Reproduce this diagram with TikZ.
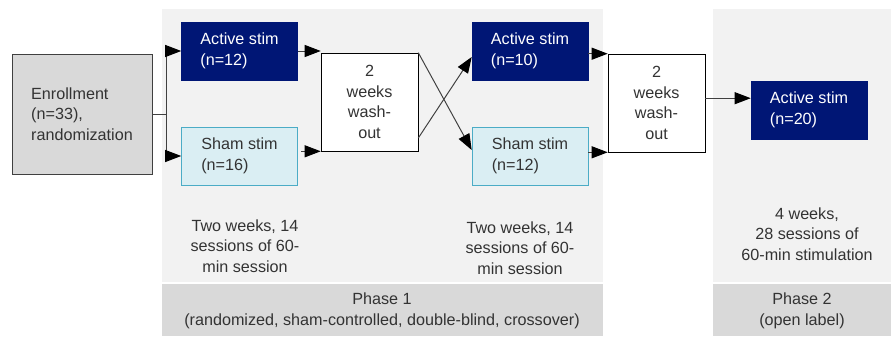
\documentclass[tikz,border=0pt]{standalone}
\usepackage{fontspec}
\setmainfont{Liberation Sans}
\usepackage{tikz}
\usetikzlibrary{arrows.meta,positioning}

\definecolor{navybox}{RGB}{0,22,117}
\definecolor{shamfill}{RGB}{218,238,243}
\definecolor{shamline}{RGB}{75,172,198}
\definecolor{phasebg}{RGB}{242,242,242}
\definecolor{phaseband}{RGB}{217,217,217}
\definecolor{textgray}{RGB}{51,51,51}
\definecolor{linegray}{RGB}{64,64,64}

\begin{document}
\begin{tikzpicture}[
    x=0.025cm, y=-0.025cm,
    every node/.style={font=\fontsize{11.5}{14.6}\selectfont, text=textgray},
    activebox/.style={rectangle, draw=navybox, fill=navybox, text=white, align=left, minimum width=2.9cm, minimum height=1.45cm},
    shambox/.style={rectangle, draw=shamline, fill=shamfill, align=left, minimum width=2.9cm, minimum height=1.45cm},
    washbox/.style={rectangle, draw=black, fill=white, align=center, minimum width=2.425cm, minimum height=2.45cm},
    enrollbox/.style={rectangle, draw=linegray, fill=phaseband, align=left, minimum width=3.5cm, minimum height=3cm},
    info/.style={align=center},
    link/.style={draw=linegray, line width=0.7pt},
    arrow/.style={link, -{Triangle[length=0.4cm, width=0.3cm, black]}}
]
\useasboundingbox (0,0) rectangle (891,336);

% Phase backgrounds
\fill[phasebg] (162,9) rectangle (603,282);
\fill[phaseband] (162,284) rectangle (603,336);
\fill[phasebg] (713,9) rectangle (891,282);
\fill[phaseband] (713,284) rectangle (891,336);

% Boxes
\node[enrollbox] (enroll) at (82,114) {Enrollment\\(n=33),\\randomization};
\node[activebox] (act1) at (239.5,51) {Active stim\\(n=12)};
\node[shambox] (sham1) at (239.5,156) {Sham stim\\(n=16)};
\node[washbox] (wash1) at (369.5,102) {2\\weeks\\wash-\\out};
\node[activebox] (act2) at (530,51) {Active stim\\(n=10)};
\node[shambox] (sham2) at (530,156) {Sham stim\\(n=12)};
\node[washbox] (wash2) at (656.5,103) {2\\weeks\\wash-\\out};
\node[activebox] (act3) at (809,110) {Active stim\\(n=20)};

% Session notes
\node[info] (note1) at (245,246) {Two weeks, 14\\sessions of 60-\\min session};
\node[info] (note2) at (520,248) {Two weeks, 14\\sessions of 60-\\min session};
\node[info] (note3) at (807,234) {4 weeks,\\28 sessions of\\60-min stimulation};

% Phase labels
\node[info] (phase1) at (382,311) {Phase 1\\(randomized, sham-controlled, double-blind, crossover)};
\node[info] (phase2) at (802,311) {Phase 2\\(open label)};

% Arrows
\coordinate (split) at (166,114);
\coordinate (w2out) at ([yshift=0.12cm]wash2.east);
\draw[link] (enroll.east) -- (split);
\draw[arrow] (split) |- (act1.west);
\draw[arrow] (split) |- (sham1.west);
\draw[arrow] (act1.east) -- (act1.east -| wash1.west);
\draw[arrow] ([xshift=0.08cm]sham1.east |- wash1.south west) -- (wash1.south west);
\draw[arrow] ([yshift=-0.9cm]wash1.east) -- ([yshift=-0.15cm]act2.west);
\draw[arrow] (wash1.north east) -- ([yshift=0.15cm]sham2.west);
\draw[arrow] (act2.east |- wash2.north west) -- (wash2.north west);
\draw[arrow] (sham2.east |- wash2.south west) -- (wash2.south west);
\draw[arrow] (w2out) -- (w2out -| act3.west);

\end{tikzpicture}
\end{document}
